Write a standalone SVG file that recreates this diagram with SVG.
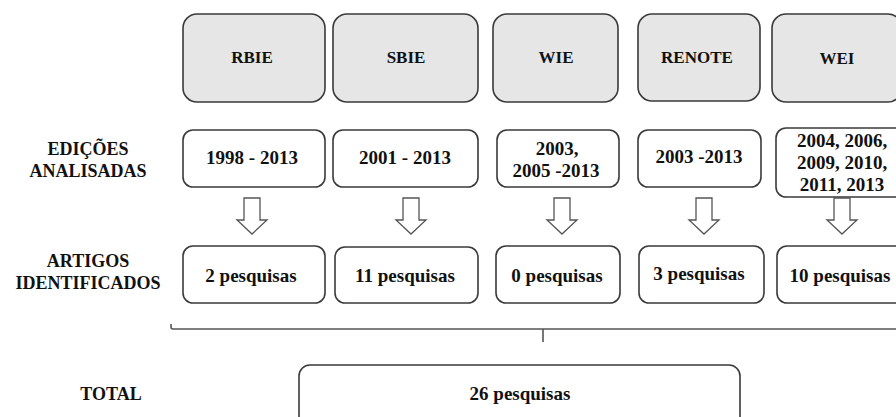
<svg xmlns="http://www.w3.org/2000/svg" width="896" height="417" viewBox="0 0 896 417">
<style>
  .head{fill:#e6e6e6;stroke:#3a3a3a;stroke-width:1.6}
  .box{fill:#ffffff;stroke:#3a3a3a;stroke-width:1.6}
  text{font-family:'Liberation Serif','Times New Roman',serif;font-weight:700;fill:#111;text-anchor:middle}
  .ht{font-size:17px}
  .nt{font-size:19px}
  .lt{font-size:18px}
  .arrow{fill:#fff;stroke:#555;stroke-width:1.3;stroke-linejoin:miter}
  .br{fill:none;stroke:#555;stroke-width:1.6}
</style>
<defs>
  <path id="darr" d="M-8,0 H8 V22 H15 L0,36 L-15,22 H-8 Z"/>
</defs>
<rect width="896" height="417" fill="#ffffff"/>

<g id="labels">
  <text class="lt" x="88" y="155">EDIÇÕES</text>
  <text class="lt" x="88" y="177">ANALISADAS</text>
  <text class="lt" x="88" y="267">ARTIGOS</text>
  <text class="lt" x="88" y="289">IDENTIFICADOS</text>
  <text class="lt" x="111" y="400">TOTAL</text>
</g>

<g id="rbie">
  <rect class="head" x="183" y="14" width="142" height="88" rx="14"/>
  <text class="ht" x="252" y="63">RBIE</text>
  <rect class="box" x="183" y="130" width="142" height="57" rx="10"/>
  <text class="nt" x="252" y="164">1998 - 2013</text>
  <rect class="box" x="183" y="246" width="142" height="57" rx="10"/>
  <text class="nt" x="251" y="282">2 pesquisas</text>
</g>

<g id="sbie">
  <rect class="head" x="333" y="14" width="145" height="88" rx="14"/>
  <text class="ht" x="406" y="63">SBIE</text>
  <rect class="box" x="333" y="130" width="145" height="57" rx="10"/>
  <text class="nt" x="405" y="164">2001 - 2013</text>
  <rect class="box" x="335" y="247" width="143" height="56" rx="10"/>
  <text class="nt" x="405" y="282">11 pesquisas</text>
</g>

<g id="wie">
  <rect class="head" x="493" y="14" width="125" height="88" rx="14"/>
  <text class="ht" x="556" y="63">WIE</text>
  <rect class="box" x="497" y="130" width="122" height="57" rx="10"/>
  <text class="nt" x="557" y="155">2003,</text>
  <text class="nt" x="556" y="177">2005 -2013</text>
  <rect class="box" x="496" y="246" width="124" height="57" rx="10"/>
  <text class="nt" x="557" y="282">0 pesquisas</text>
</g>

<g id="renote">
  <rect class="head" x="638" y="14" width="122" height="87" rx="14"/>
  <text class="ht" x="697" y="63">RENOTE</text>
  <rect class="box" x="638" y="130" width="123" height="57" rx="10"/>
  <text class="nt" x="699" y="163">2003 -2013</text>
  <rect class="box" x="639" y="246" width="125" height="57" rx="10"/>
  <text class="nt" x="699" y="280">3 pesquisas</text>
</g>

<g id="wei">
  <rect class="head" x="772" y="14" width="130" height="88" rx="14"/>
  <text class="ht" x="837" y="64">WEI</text>
  <rect class="box" x="776" y="128" width="132" height="69" rx="10"/>
  <text class="nt" x="842" y="147">2004, 2006,</text>
  <text class="nt" x="842" y="169">2009, 2010,</text>
  <text class="nt" x="842" y="191">2011, 2013</text>
  <rect class="box" x="777" y="246" width="130" height="57" rx="10"/>
  <text class="nt" x="840" y="282">10 pesquisas</text>
</g>

<g id="total">
  <rect class="box" x="299" y="365" width="441" height="70" rx="11"/>
  <text class="nt" x="520" y="400">26 pesquisas</text>
</g>

<g id="connectors">
  <use href="#darr" class="arrow" x="252" y="198"/>
  <use href="#darr" class="arrow" x="411" y="198"/>
  <use href="#darr" class="arrow" x="562" y="198"/>
  <use href="#darr" class="arrow" x="704" y="198"/>
  <use href="#darr" class="arrow" x="842" y="198"/>
  <path class="br" d="M171,324 V327 Q171,329 173,329 H900"/>
  <path class="br" d="M543,329 V342"/>
</g>
</svg>
